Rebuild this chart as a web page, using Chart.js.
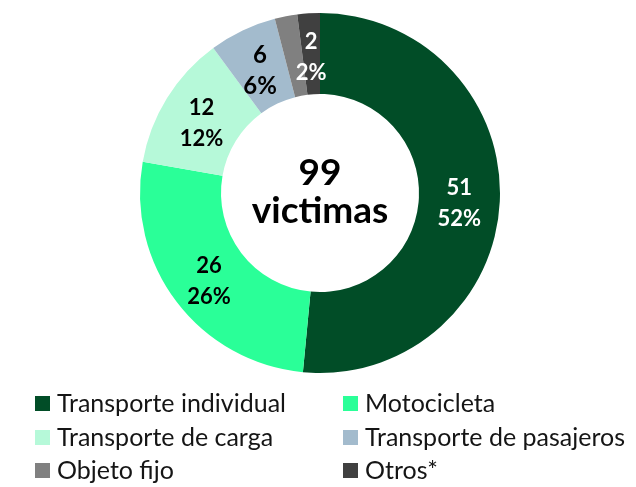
<!DOCTYPE html>
<html><head><meta charset="utf-8">
<script src="https://cdn.jsdelivr.net/npm/chart.js@4"></script>
<style>html,body{margin:0;padding:0;background:#fff;}#wrap{position:relative;width:636px;height:487px;}</style>
</head><body><div id="wrap"><canvas id="c" width="636" height="487"></canvas></div>
<script>
const categories = ["Transporte individual","Motocicleta","Transporte de carga","Transporte de pasajeros","Objeto fijo","Otros*"];
const victims = [51,26,12,6,2,2];
const percentLabels = ["52%","26%","12%","6%","2%","2%"];
const sliceColors = ["#014d27","#2aff98","#b6f9d9","#a3bbcd","#808080","#404040"];
const labelColors = ["#ffffff","#000000","#000000","#000000","#ffffff","#ffffff"];
const hiddenLabels = [4];
const centerLines = ["99","victimas"];

const FONT = "Lato, 'Open Sans', sans-serif";

const sliceLabels = {
  id:'sliceLabels',
  afterDatasetsDraw(chart){
    const ctx = chart.ctx;
    const meta = chart.getDatasetMeta(0);
    ctx.save();
    ctx.textAlign='center';
    ctx.textBaseline='middle';
    meta.data.forEach((arc,i)=>{
      if(hiddenLabels.includes(i)) return;
      const p = arc.tooltipPosition();
      ctx.fillStyle = labelColors[i];
      ctx.font = "bold " + (i===3 ? 24 : 22) + "px " + FONT;
      ctx.fillText(String(victims[i]), p.x, p.y - 12);
      ctx.fillText(percentLabels[i], p.x, p.y + 19);
    });
    // center text
    const a = meta.data[0];
    ctx.fillStyle='#000';
    ctx.font = "bold 37px " + FONT;
    ctx.fillText(centerLines[0], a.x, a.y - 20);
    ctx.fillText(centerLines[1], a.x, a.y + 18);
    // legend
    ctx.textAlign='left';
    ctx.font = "25px " + FONT;
    const colX = [35, 343];
    const rowY = [403, 437, 470];
    categories.forEach((name,i)=>{
      const x = colX[i%2], y = rowY[Math.floor(i/2)];
      ctx.fillStyle = sliceColors[i];
      ctx.fillRect(x, y-7, 15, 15);
      ctx.fillStyle = '#151515';
      ctx.fillText(name, x+22, y+1);
    });
    ctx.restore();
  }
};

new Chart(document.getElementById('c'), {
  type:'doughnut',
  data:{ labels:categories, datasets:[{ data:victims, backgroundColor:sliceColors, borderWidth:0, hoverOffset:0 }]},
  options:{
    responsive:false, animation:false, cutout:'55%',
    layout:{padding:{left:4,right:0,top:13,bottom:114}},
    plugins:{legend:{display:false}, tooltip:{enabled:false}}
  },
  plugins:[sliceLabels]
});
</script></body></html>
